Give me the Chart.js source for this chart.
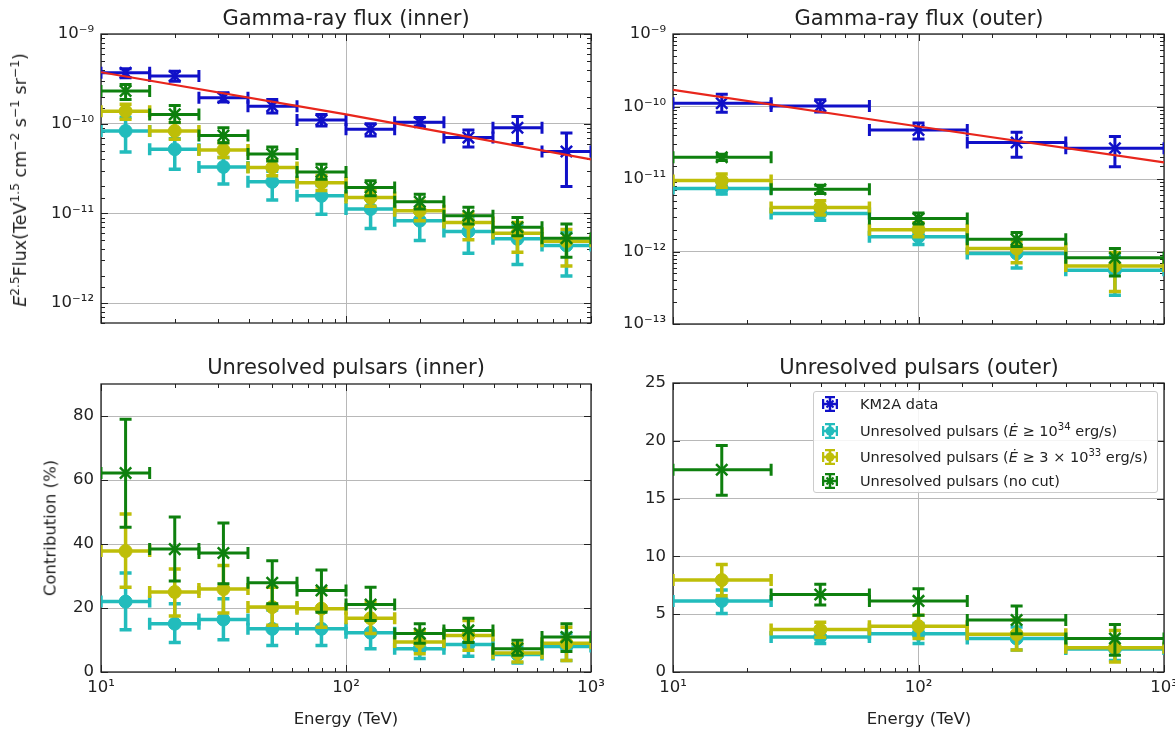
<!DOCTYPE html>
<html>
<head>
<meta charset="utf-8">
<script src="https://cdn.jsdelivr.net/npm/chart.js@4.4.1/dist/chart.umd.min.js"></script>
<style>
  body { margin: 0; width: 1175px; height: 731px; background: #fff; position: relative; overflow: hidden;
         font-family: "DejaVu Sans", sans-serif; color: #222; }
  canvas { position: absolute; }
  .title { position: absolute; font-size: 21px; transform: translate(-50%, -50%); white-space: nowrap; }
  .xlabel { position: absolute; font-size: 16.5px; transform: translate(-50%, -50%); white-space: nowrap; }
  .ylabel { position: absolute; font-size: 16.5px; transform: translate(-50%, -50%) rotate(-90deg); white-space: nowrap; }
  sup { font-size: 70%; line-height: 0; }
  #legend { position: absolute; left: 813px; top: 391px; width: 343px; height: 100px; border: 1px solid #ccc;
            border-radius: 3px; background: rgba(255,255,255,0.85); font-size: 14.5px; }
  #legend .row { position: absolute; left: 8px; height: 20px; display: flex; align-items: center; white-space: nowrap; }
  #legend svg { margin-right: 22px; }
</style>
</head>
<body>
<canvas id="fluxInner" style="left:20px;top:14px" width="590" height="326"></canvas>
<canvas id="fluxOuter" style="left:600px;top:14px" width="575" height="326"></canvas>
<canvas id="fracInner" style="left:20px;top:364px" width="590" height="346"></canvas>
<canvas id="fracOuter" style="left:600px;top:363px" width="575" height="347"></canvas>

<div class="title" style="left:346px;top:18px">Gamma-ray flux (inner)</div>
<div class="title" style="left:919px;top:18px">Gamma-ray flux (outer)</div>
<div class="title" style="left:346px;top:367px">Unresolved pulsars (inner)</div>
<div class="title" style="left:919px;top:367px">Unresolved pulsars (outer)</div>
<div class="xlabel" style="left:346px;top:718px">Energy (TeV)</div>
<div class="xlabel" style="left:919px;top:718px">Energy (TeV)</div>
<div class="ylabel" style="left:20px;top:180px;font-size:17.5px"><i>E</i><sup>2.5</sup>Flux(TeV<sup>1.5</sup> cm<sup>−2</sup> s<sup>−1</sup> sr<sup>−1</sup>)</div>
<div class="ylabel" style="left:50px;top:528px">Contribution (%)</div>

<div id="legend"></div>

<script>
// energy bins (TeV): centres and edges
const innerE = [12.6, 20, 31.6, 50, 79.4, 126, 200, 316, 501, 794];
const innerELo = [10, 15.8, 25.1, 39.8, 63.1, 100, 158, 251, 398, 631];
const innerEHi = [15.8, 25.1, 39.8, 63.1, 100, 158, 251, 398, 631, 1000];
const outerE = [15.8, 39.8, 100, 251, 631];
const outerELo = [10, 25.1, 63.1, 158, 398];
const outerEHi = [25.1, 63.1, 158, 398, 1000];

// E^2.5 flux, inner region
const km2aInner = [3.7e-10, 3.4e-10, 1.95e-10, 1.57e-10, 1.10e-10, 8.7e-11, 1.04e-10, 7.0e-11, 9.0e-11, 4.9e-11];
const km2aInnerLo = [3.25e-10, 2.98e-10, 1.74e-10, 1.32e-10, 9.4e-11, 7.3e-11, 9.4e-11, 5.5e-11, 6.0e-11, 2.0e-11];
const km2aInnerHi = [4.1e-10, 3.85e-10, 2.21e-10, 1.86e-10, 1.27e-10, 1.0e-10, 1.17e-10, 8.5e-11, 1.2e-10, 7.9e-11];
const noCutInner = [2.31e-10, 1.27e-10, 7.4e-11, 4.6e-11, 2.9e-11, 1.95e-11, 1.35e-11, 9.4e-12, 7.0e-12, 5.3e-12];
const noCutInnerLo = [1.86e-10, 1.03e-10, 6.15e-11, 3.85e-11, 2.4e-11, 1.57e-11, 1.12e-11, 7.6e-12, 5.65e-12, 3.25e-12];
const noCutInnerHi = [2.74e-10, 1.6e-10, 9.0e-11, 5.5e-11, 3.53e-11, 2.31e-11, 1.64e-11, 1.17e-11, 9.0e-12, 7.6e-12];
const cut33Inner = [1.38e-10, 8.3e-11, 5.1e-11, 3.24e-11, 2.2e-11, 1.5e-11, 1.07e-11, 7.9e-12, 6.0e-12, 4.9e-12];
const cut33InnerLo = [1.12e-10, 6.7e-11, 4.2e-11, 2.63e-11, 1.8e-11, 1.2e-11, 8.3e-12, 5.1e-12, 3.7e-12, 2.6e-12];
const cut33InnerHi = [1.65e-10, 1.03e-10, 6.15e-11, 3.9e-11, 2.65e-11, 1.8e-11, 1.37e-11, 1.0e-11, 7.9e-12, 6.6e-12];
const cut34Inner = [8.3e-11, 5.2e-11, 3.3e-11, 2.25e-11, 1.57e-11, 1.12e-11, 8.3e-12, 6.3e-12, 5.2e-12, 4.4e-12];
const cut34InnerLo = [4.84e-11, 3.1e-11, 2.13e-11, 1.41e-11, 9.8e-12, 6.8e-12, 5.0e-12, 3.6e-12, 2.7e-12, 2.0e-12];
const cut34InnerHi = [1.17e-10, 6.8e-11, 4.2e-11, 2.95e-11, 2.05e-11, 1.44e-11, 1.1e-11, 8.7e-12, 7.4e-12, 6.1e-12];
const fitInnerE = [10, 100, 1000];
const fitInner = [3.75e-10, 1.27e-10, 4.0e-11];

// E^2.5 flux, outer region
const km2aOuter = [1.11e-10, 1.02e-10, 4.75e-11, 3.18e-11, 2.65e-11];
const km2aOuterLo = [8.3e-11, 8.4e-11, 3.55e-11, 2.0e-11, 1.48e-11];
const km2aOuterHi = [1.48e-10, 1.24e-10, 5.9e-11, 4.4e-11, 3.85e-11];
const noCutOuter = [2.0e-11, 7.2e-12, 2.86e-12, 1.47e-12, 8.2e-13];
const noCutOuterLo = [1.8e-11, 6.3e-12, 2.4e-12, 1.17e-12, 4.6e-13];
const noCutOuterHi = [2.2e-11, 8.2e-12, 3.4e-12, 1.83e-12, 1.1e-12];
const cut33Outer = [9.5e-12, 4.05e-12, 2.0e-12, 1.1e-12, 6.3e-13];
const cut33OuterLo = [7.7e-12, 3.2e-12, 1.6e-12, 7.0e-13, 2.8e-13];
const cut33OuterHi = [1.17e-11, 5.0e-12, 2.5e-12, 1.4e-12, 9.7e-13];
const cut34Outer = [7.4e-12, 3.35e-12, 1.6e-12, 9.4e-13, 5.5e-13];
const cut34OuterLo = [6.2e-12, 2.7e-12, 1.25e-12, 5.9e-13, 2.5e-13];
const cut34OuterHi = [8.8e-12, 4.1e-12, 1.95e-12, 1.2e-12, 8.7e-13];
const fitOuterE = [10, 100, 1000];
const fitOuter = [1.7e-10, 5.3e-11, 1.7e-11];

// contribution (%), inner region
const noCutFracInner = [62.2, 38.4, 37.2, 27.9, 25.5, 21.1, 12.0, 13.0, 7.3, 10.9];
const noCutFracInnerLo = [45.2, 28.4, 27.6, 21.3, 18.7, 16.1, 9.0, 9.2, 5.2, 6.4];
const noCutFracInnerHi = [79.0, 48.4, 46.6, 34.8, 31.9, 26.5, 15.1, 16.8, 9.9, 15.1];
const cut33FracInner = [37.8, 25.0, 25.9, 20.3, 19.8, 16.8, 9.4, 11.4, 5.9, 9.0];
const cut33FracInnerLo = [26.5, 17.5, 18.4, 14.6, 14.0, 12.0, 5.7, 6.8, 3.1, 3.6];
const cut33FracInnerHi = [49.4, 32.2, 33.3, 26.5, 26.0, 21.8, 13.0, 16.1, 8.8, 14.0];
const cut34FracInner = [22.0, 15.1, 16.4, 13.5, 13.5, 12.3, 7.3, 8.6, 5.5, 8.0];
const cut34FracInnerLo = [13.2, 9.2, 10.1, 8.3, 8.3, 7.3, 4.2, 4.9, 2.8, 3.6];
const cut34FracInnerHi = [30.9, 21.3, 22.9, 19.4, 19.2, 17.2, 9.9, 12.0, 7.8, 12.0];

// contribution (%), outer region
const noCutFracOuter = [17.5, 6.7, 6.15, 4.5, 2.9];
const noCutFracOuterLo = [15.3, 5.8, 4.9, 3.3, 1.45];
const noCutFracOuterHi = [19.6, 7.6, 7.2, 5.7, 4.1];
const cut33FracOuter = [7.95, 3.67, 3.96, 3.27, 2.1];
const cut33FracOuterLo = [6.6, 3.0, 2.9, 1.9, 0.87];
const cut33FracOuterHi = [9.3, 4.3, 4.9, 4.5, 3.6];
const cut34FracOuter = [6.15, 3.03, 3.3, 2.9, 2.0];
const cut34FracOuterLo = [5.05, 2.46, 2.46, 1.9, 1.0];
const cut34FracOuterHi = [7.1, 3.6, 4.2, 3.9, 2.9];

const legendLabels = ["KM2A data", "Unresolved pulsars (<i>Ė</i> ≥ 10<sup>34</sup> erg/s)",
  "Unresolved pulsars (<i>Ė</i> ≥ 3 × 10<sup>33</sup> erg/s)", "Unresolved pulsars (no cut)"];

const BLUE = "#1010c8", CYAN = "#22bcbc", YELLOW = "#bebe08", GREEN = "#0e800e", RED = "#e8261c";
const GRID = "#b8b8b8";

function sup(n) {
  return String(n).split("").map(c => c === "-" ? "⁻" : "⁰¹²³⁴⁵⁶⁷⁸⁹"[c]).join("");
}
function isDecade(v) {
  let e = Math.log10(v);
  return Math.abs(e - Math.round(e)) < 1e-6;
}

// horizontal + vertical error bars with caps, drawn under each dataset's markers
const errorBars = {
  id: "errorBars",
  beforeDatasetDraw(chart, args) {
    let ds = chart.data.datasets[args.index];
    if (!ds.err) return;
    let { ctx, chartArea: a, scales: { x, y } } = chart;
    let cap = 6;
    ctx.save();
    ctx.beginPath();
    ctx.rect(a.left, a.top, a.right - a.left, a.bottom - a.top);
    ctx.clip();
    ctx.strokeStyle = ds.borderColor;
    ctx.lineWidth = ds.errWidth;
    ds.data.forEach((p, i) => {
      let px = x.getPixelForValue(p.x), py = y.getPixelForValue(p.y);
      let x0 = x.getPixelForValue(ds.err.xLo[i]), x1 = x.getPixelForValue(ds.err.xHi[i]);
      let y0 = y.getPixelForValue(ds.err.yLo[i]), y1 = y.getPixelForValue(ds.err.yHi[i]);
      ctx.beginPath();
      ctx.moveTo(x0, py); ctx.lineTo(x1, py);
      ctx.moveTo(px, y0); ctx.lineTo(px, y1);
      ctx.moveTo(x0, py - cap); ctx.lineTo(x0, py + cap);
      ctx.moveTo(x1, py - cap); ctx.lineTo(x1, py + cap);
      ctx.moveTo(px - cap, y0); ctx.lineTo(px + cap, y0);
      ctx.moveTo(px - cap, y1); ctx.lineTo(px + cap, y1);
      ctx.stroke();
    });
    ctx.restore();
  }
};

// matplotlib classic look: frame on all sides, ticks pointing inwards
const frameTicks = {
  id: "frameTicks",
  beforeDatasetsDraw(chart) {
    let { ctx, chartArea: a, scales: { x, y } } = chart;
    ctx.save();
    ctx.strokeStyle = "#222";
    ctx.lineWidth = 1;
    ctx.beginPath();
    x.ticks.forEach(t => {
      let major = isDecade(t.value), len = major ? 7 : 4;
      let px = Math.round(x.getPixelForValue(t.value)) + 0.5;
      ctx.moveTo(px, a.bottom); ctx.lineTo(px, a.bottom - len);
      ctx.moveTo(px, a.top); ctx.lineTo(px, a.top + len);
    });
    y.ticks.forEach(t => {
      let major, len;
      if (y.type === "logarithmic") { major = isDecade(t.value); len = major ? 7 : 4; }
      else { major = t.label !== ""; len = 7; if (!major) return; }
      let py = Math.round(y.getPixelForValue(t.value)) + 0.5;
      ctx.moveTo(a.left, py); ctx.lineTo(a.left + len, py);
      ctx.moveTo(a.right, py); ctx.lineTo(a.right - len, py);
    });
    ctx.stroke();
    ctx.lineWidth = 1.3;
    ctx.strokeRect(a.left, a.top, a.right - a.left, a.bottom - a.top);
    ctx.restore();
  }
};

function series(xs, xLo, xHi, ys, yLo, yHi, color, marker, order) {
  let cross = marker === "x";
  return {
    data: xs.map((v, i) => ({ x: v, y: ys[i] })),
    err: { xLo, xHi, yLo, yHi },
    errWidth: cross ? 3 : 3.5,
    borderColor: color,
    backgroundColor: color,
    pointStyle: cross ? "crossRot" : "circle",
    pointRadius: cross ? 8 : 6.5,
    pointBorderWidth: cross ? 2.5 : 1,
    order: order
  };
}

function fitLine(xs, ys) {
  return {
    data: xs.map((v, i) => ({ x: v, y: ys[i] })),
    showLine: true, borderColor: RED, borderWidth: 2.2, pointRadius: 0, order: 0
  };
}

function fixAxis(size) {
  return function (scale) {
    if (scale.isHorizontal()) scale.height = size; else scale.width = size;
    scale.paddingLeft = scale.paddingRight = scale.paddingTop = scale.paddingBottom = 0;
  };
}

function makePanel(id, datasets, opt) {
  let tickFont = { family: "DejaVu Sans", size: 16.5 };
  let yScale;
  if (opt.yLog) {
    yScale = {
      type: "logarithmic", min: opt.yMin, max: opt.yMax, afterFit: fixAxis(opt.yw),
      ticks: { autoSkip: false, padding: 7, color: "#222", font: tickFont,
               callback: v => isDecade(v) ? "10" + sup(Math.round(Math.log10(v))) : "" },
      grid: { drawTicks: false, lineWidth: 1,
              color: c => c.tick && isDecade(c.tick.value) ? GRID : "rgba(0,0,0,0)" },
      border: { display: false }
    };
  } else {
    yScale = {
      type: "linear", min: opt.yMin, max: opt.yMax, afterFit: fixAxis(opt.yw),
      ticks: { stepSize: opt.yStep, autoSkip: false, padding: 7, color: "#222", font: tickFont,
               callback: v => v % opt.yStep === 0 ? String(v) : "" },
      grid: { drawTicks: false, lineWidth: 1,
              color: c => c.tick && c.tick.value % opt.yStep === 0 ? GRID : "rgba(0,0,0,0)" },
      border: { display: false }
    };
  }
  let ctx = document.getElementById(id).getContext("2d");
  return new Chart(ctx, {
    type: "scatter",
    data: { datasets: datasets },
    plugins: [frameTicks, errorBars],
    options: {
      responsive: false,
      animation: false,
      layout: { padding: { left: 0, top: 20, right: opt.right, bottom: 0 } },
      plugins: { legend: { display: false }, tooltip: { enabled: false } },
      scales: {
        x: {
          type: "logarithmic", min: 10, max: 1000, afterFit: fixAxis(opt.xh),
          ticks: { autoSkip: false, maxRotation: 0, padding: 6, color: "#222", font: tickFont,
                   callback: v => opt.xLabels && isDecade(v) ? "10" + sup(Math.round(Math.log10(v))) : "" },
          grid: { drawTicks: false, lineWidth: 1,
                  color: c => c.tick && isDecade(c.tick.value) ? GRID : "rgba(0,0,0,0)" },
          border: { display: false }
        },
        y: yScale
      }
    }
  });
}

makePanel("fluxInner", [
  fitLine(fitInnerE, fitInner),
  series(innerE, innerELo, innerEHi, km2aInner, km2aInnerLo, km2aInnerHi, BLUE, "x", 1),
  series(innerE, innerELo, innerEHi, noCutInner, noCutInnerLo, noCutInnerHi, GREEN, "x", 2),
  series(innerE, innerELo, innerEHi, cut33Inner, cut33InnerLo, cut33InnerHi, YELLOW, "o", 3),
  series(innerE, innerELo, innerEHi, cut34Inner, cut34InnerLo, cut34InnerHi, CYAN, "o", 4)
], { yLog: true, yMin: 6e-13, yMax: 1e-9, yw: 81, xh: 17, right: 19, xLabels: false });

makePanel("fluxOuter", [
  fitLine(fitOuterE, fitOuter),
  series(outerE, outerELo, outerEHi, km2aOuter, km2aOuterLo, km2aOuterHi, BLUE, "x", 1),
  series(outerE, outerELo, outerEHi, noCutOuter, noCutOuterLo, noCutOuterHi, GREEN, "x", 2),
  series(outerE, outerELo, outerEHi, cut33Outer, cut33OuterLo, cut33OuterHi, YELLOW, "o", 3),
  series(outerE, outerELo, outerEHi, cut34Outer, cut34OuterLo, cut34OuterHi, CYAN, "o", 4)
], { yLog: true, yMin: 1e-13, yMax: 1e-9, yw: 73, xh: 16, right: 11, xLabels: false });

makePanel("fracInner", [
  series(innerE, innerELo, innerEHi, noCutFracInner, noCutFracInnerLo, noCutFracInnerHi, GREEN, "x", 2),
  series(innerE, innerELo, innerEHi, cut33FracInner, cut33FracInnerLo, cut33FracInnerHi, YELLOW, "o", 3),
  series(innerE, innerELo, innerEHi, cut34FracInner, cut34FracInnerLo, cut34FracInnerHi, CYAN, "o", 4)
], { yLog: false, yMin: 0, yMax: 90, yStep: 20, yw: 81, xh: 38, right: 19, xLabels: true });

makePanel("fracOuter", [
  series(outerE, outerELo, outerEHi, noCutFracOuter, noCutFracOuterLo, noCutFracOuterHi, GREEN, "x", 2),
  series(outerE, outerELo, outerEHi, cut33FracOuter, cut33FracOuterLo, cut33FracOuterHi, YELLOW, "o", 3),
  series(outerE, outerELo, outerEHi, cut34FracOuter, cut34FracOuterLo, cut34FracOuterHi, CYAN, "o", 4)
], { yLog: false, yMin: 0, yMax: 25, yStep: 5, yw: 73, xh: 38, right: 11, xLabels: true });

// legend inside the lower right panel, matplotlib errorbar handles
function legendIcon(color, marker) {
  let m = marker === "x"
    ? '<path d="M4.5 4.5 L11.5 11.5 M11.5 4.5 L4.5 11.5" stroke="' + color + '" stroke-width="2.2"/>'
    : '<circle cx="8" cy="8" r="4.5" fill="' + color + '"/>';
  return '<svg width="16" height="16" viewBox="0 0 16 16"><g stroke="' + color + '" stroke-width="2.5" fill="none">' +
    '<path d="M1 8 H15 M8 1 V15 M1 3 V13 M15 3 V13 M3 1 H13 M3 15 H13"/></g>' + m + '</svg>';
}
let legendColors = [BLUE, CYAN, YELLOW, GREEN];
let legendMarkers = ["x", "o", "o", "x"];
let legendTops = [2, 29, 55, 79];
document.getElementById("legend").innerHTML = legendLabels.map((t, i) =>
  '<div class="row" style="top:' + legendTops[i] + 'px">' + legendIcon(legendColors[i], legendMarkers[i]) +
  '<span>' + t + '</span></div>').join("");
</script>
</body>
</html>
